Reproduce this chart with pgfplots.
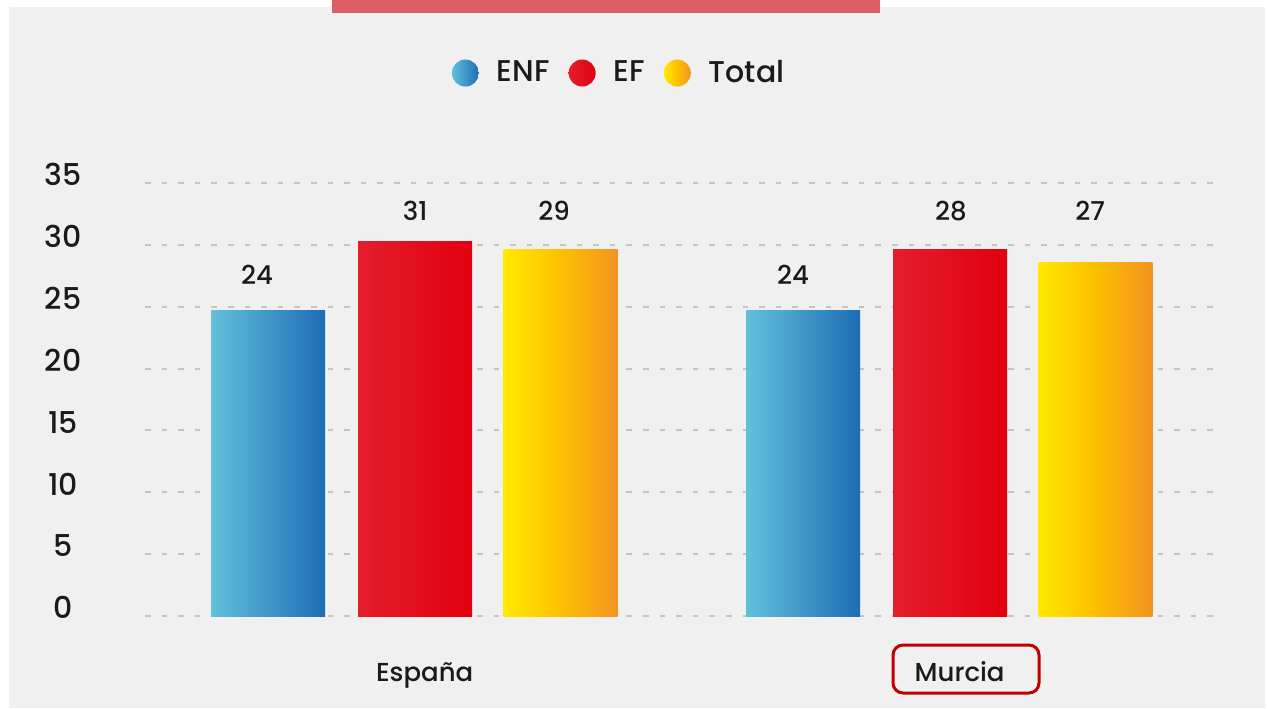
\documentclass[border=0pt]{standalone}
\usepackage{pgfplots}
\pgfplotsset{compat=1.18}
\usepackage{fontspec}
\setmainfont{Poppins Medium}
\definecolor{panel}{HTML}{F0F0F0}
\definecolor{topbar}{HTML}{DC5F65}
\definecolor{txt}{HTML}{1A1A1A}
\definecolor{gridc}{HTML}{C4C4C4}
\definecolor{enfL}{HTML}{62C0DC}
\definecolor{enfR}{HTML}{1E6DB4}
\definecolor{efL}{HTML}{E41D2C}
\definecolor{efR}{HTML}{E1000F}
\definecolor{totL}{HTML}{FFE900}
\definecolor{totM}{HTML}{FCC000}
\definecolor{totR}{HTML}{F29420}
\definecolor{boxc}{HTML}{C00000}
\pgfplotsset{
  enf/.style={ybar, bar width=57pt, bar shift=-73.5pt, draw=none, left color=enfL, right color=enfR,
    legend image code/.code={\shade[left color=enfL, right color=enfR] (0pt,0pt) circle (6.75pt);}},
  ef/.style={ybar, bar width=57pt, bar shift=0pt, draw=none, left color=efL, right color=efR,
    legend image code/.code={\shade[left color=efL, right color=efR] (0pt,0pt) circle (6.75pt);}},
  tot/.style={ybar, bar width=57pt, bar shift=72.75pt, draw=none, left color=totL, right color=totR, middle color=totM,
    legend image code/.code={\shade[left color=totL, right color=totR, middle color=totM] (0pt,0pt) circle (6.75pt);}},
}
\begin{document}
\begin{tikzpicture}
\useasboundingbox (0pt,0pt) rectangle (633.5pt,354pt);
\fill[white] (0pt,0pt) rectangle (633.5pt,354pt);
\fill[panel] (4.5pt,0pt) rectangle (632.5pt,350.5pt);
\fill[topbar] (166pt,347.5pt) rectangle (440pt,354pt);
\begin{axis}[
    at={(72.5pt,46pt)}, anchor=south west,
    scale only axis, width=535pt, height=216.5pt,
    xmin=-0.505, xmax=1.495, ymin=0, ymax=35,
    ytick={0,5,...,35}, xtick={0,1}, xticklabels={España,Murcia},
    axis line style={draw=none}, major tick length=0pt,
    ymajorgrids, grid style={gridc, line width=1pt, dash pattern=on 2.8pt off 5.5pt},
    /pgf/number format/assume math mode=true,
    yticklabel style={anchor=center, xshift=-41pt, yshift=4.2pt, font=\fontsize{15}{18}\selectfont, text=txt},
    xticklabel style={anchor=base, xshift=4.75pt, yshift=-32.5pt, font=\fontsize{13}{16}\selectfont, text=txt},
    legend columns=3,
    legend style={at={(0.444,1.254)}, anchor=center, draw=none, fill=none, inner sep=0pt,
        font=\fontsize{15}{18}\selectfont, text=txt,
        /tikz/every odd column/.append style={column sep=7pt},
        /tikz/every even column/.append style={column sep=7.5pt}},
    legend cell align=left,
]
\addplot[enf] coordinates {(0,24.7)};
\addlegendentry{ENF}
\addplot[ef] coordinates {(0,30.3)};
\addlegendentry{EF}
\addplot[tot] coordinates {(0,29.6)};
\addlegendentry{Total}
\addplot[enf, forget plot] coordinates {(1,24.7)};
\addplot[ef, forget plot] coordinates {(1,29.6)};
\addplot[tot, forget plot] coordinates {(1,28.6)};
\addplot[draw=none, mark=none, forget plot, nodes near coords, point meta=explicit symbolic,
    nodes near coords style={anchor=center, font=\fontsize{13}{16}\selectfont, text=txt}]
    coordinates {(-0.2957,27.59) [24] (0,32.72) [31] (0.2595,32.72) [29]
                 (0.7062,27.59) [24] (1.0015,32.72) [28] (1.2614,32.72) [27]};
\end{axis}
\draw[boxc, line width=1.5pt, rounded corners=5pt] (446.5pt,7.5pt) rectangle (519.5pt,31.5pt);
\end{tikzpicture}
\end{document}
